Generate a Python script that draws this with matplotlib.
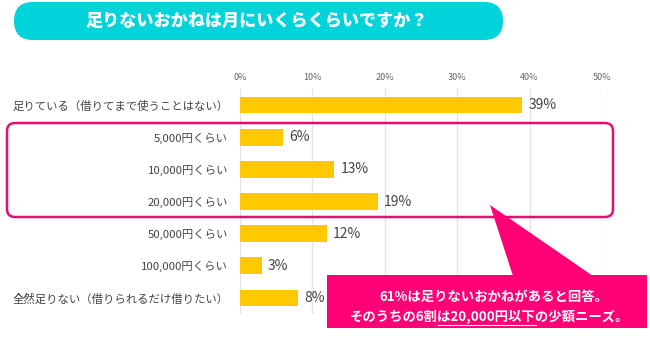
#!/usr/bin/env python3
"""Monthly shortfall survey bar chart, saved to out.png."""

import matplotlib.pyplot as plt
from matplotlib.patches import FancyBboxPatch, Polygon
from matplotlib.transforms import Affine2D

plt.rcParams["font.family"] = ["Noto Sans CJK JP", "DejaVu Sans"]

W, H = 650, 342

TITLE = "足りないおかねは月にいくらくらいですか？"
categories = [
    "足りている（借りてまで使うことはない）",
    "5,000円くらい",
    "10,000円くらい",
    "20,000円くらい",
    "50,000円くらい",
    "100,000円くらい",
    "全然足りない（借りられるだけ借りたい）",
]
values = [39, 6, 13, 19, 12, 3, 8]
ticks = [0, 10, 20, 30, 40, 50]
note_line1 = "61%は足りないおかねがあると回答。"
note_pre = "そのうちの6割"
note_under = "は20,000円以下"
note_post = "の少額ニーズ。"

BAR = "#FFC800"
PINK_LINE = "#E4106E"
PINK_FILL = "#FF0077"
CYAN = "#00D4DA"
TEXT = "#444444"
NOTE_FS = 9.6

fig = plt.figure(figsize=(W / 100, H / 100), dpi=100)
# pixel coordinates measured from the top-left of the image
px = Affine2D().scale(1 / W, -1 / H).translate(0, 1) + fig.transFigure

ax = fig.add_axes([240 / W, 1 - 314 / H, 362 / W, 225 / H])
ypos = list(range(len(categories)))
ax.barh(ypos, values, height=0.52, color=BAR, zorder=3)
ax.set_xlim(0, 50)
ax.set_ylim(len(categories) - 0.5, -0.5)
ax.set_xticks(ticks)
ax.set_xticklabels([f"{t}%" for t in ticks], fontsize=6.5, color="#666666")
ax.xaxis.tick_top()
ax.tick_params(axis="x", length=0, pad=5)
ax.set_yticks(ypos)
ax.set_yticklabels(categories, fontsize=8.2, color=TEXT)
ax.tick_params(axis="y", length=0, pad=8.5)
ax.grid(axis="x", color="#E3E3E3", linewidth=1, zorder=0)
for s in ax.spines.values():
    s.set_visible(False)

for y, v in zip(ypos, values):
    ax.annotate(f"{v}%", (v, y), xytext=(4.5, 0), textcoords="offset points",
                va="center", ha="left", fontsize=10, color=TEXT, zorder=4)

# title banner
fig.patches.append(FancyBboxPatch((14 + 19, 21), 489 - 38, 0.01,
                                  boxstyle="round,pad=19", transform=px,
                                  facecolor=CYAN, edgecolor="none"))
fig.text(257, 21, TITLE, transform=px, ha="center", va="center",
         fontsize=12.3, fontweight=900, color="white")

# highlight frame around 5,000-20,000 rows
fig.patches.append(FancyBboxPatch((7 + 8, 123 + 8), 606 - 16, 94 - 16,
                                  boxstyle="round,pad=8", transform=px,
                                  facecolor="none", edgecolor=PINK_LINE,
                                  linewidth=1.8, zorder=5))

# callout
fig.patches.append(Polygon([(490, 205), (513, 276), (593, 276)], closed=True,
                           transform=px, facecolor=PINK_FILL, edgecolor="none",
                           zorder=6))
fig.patches.append(FancyBboxPatch((327, 275), 320, 53, boxstyle="square,pad=0",
                                  transform=px, facecolor=PINK_FILL,
                                  edgecolor="none", zorder=6))
note_kw = dict(transform=px, va="center", fontsize=NOTE_FS, fontweight="bold",
               color="white", zorder=7)
fig.text(494, 297, note_line1, ha="center", **note_kw)

renderer = fig.canvas.get_renderer()


def width_px(s):
    t = fig.text(0, 0, s, fontsize=NOTE_FS, fontweight="bold")
    w = t.get_window_extent(renderer).width
    t.remove()
    return w


line2 = note_pre + note_under + note_post
x0 = 490 - width_px(line2) / 2
fig.text(x0, 317, line2, ha="left", **note_kw)
u0 = x0 + width_px(note_pre)
u1 = x0 + width_px(note_pre + note_under)
fig.lines.append(plt.Line2D([u0, u1], [325, 325], transform=px,
                            color="white", linewidth=0.8, zorder=7))

fig.savefig("out.png", dpi=100)
